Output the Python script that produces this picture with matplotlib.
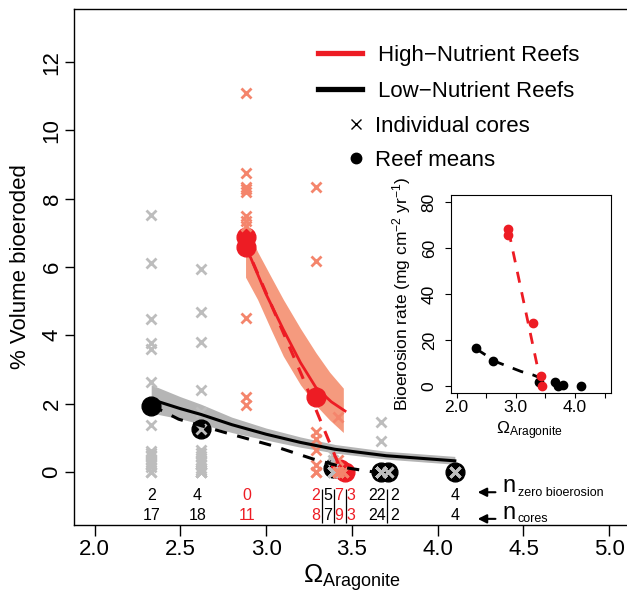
import matplotlib
matplotlib.use("Agg")
import matplotlib.pyplot as plt
from matplotlib.lines import Line2D

plt.rcParams['font.family'] = ['Liberation Sans', 'DejaVu Sans']
plt.rcParams['mathtext.fontset'] = 'custom'
plt.rcParams['mathtext.rm'] = 'Liberation Sans'
plt.rcParams['mathtext.it'] = 'Liberation Sans:italic'
plt.rcParams['mathtext.bf'] = 'Liberation Sans:bold'

RED = '#ED1C24'
SALMON = '#F4856C'
BAND_RED = '#F59A7E'
GREY = '#BDBDBD'
BAND_GREY = '#B5B5B5'

# ---- individual cores (% volume bioeroded) ----
low_core_x = [2.33, 2.62, 3.39, 3.67, 3.71, 4.10]
low_cores = [
    [7.53, 6.11, 4.47, 3.78, 3.59, 2.63, 1.38, 0.6, 0.55, 0.5, 0.45, 0.35, 0.3, 0.2, 0.15, 0, 0],
    [5.94, 4.69, 3.81, 2.39, 1.76, 1.24, 0.65, 0.55, 0.45, 0.35, 0.3, 0.2, 0.1, 0.05, 0, 0, 0, 0],
    [0.5, 0.35, 0, 0, 0, 0, 0],
    [1.47, 0.89] + [0] * 22,
    [0, 0],
    [0, 0, 0, 0],
]
high_core_x = [2.88, 3.29, 3.42, 3.45]
high_cores = [
    [11.1, 8.75, 8.35, 8.3, 8.2, 7.5, 7.35, 7.2, 4.5, 2.2, 1.95],
    [8.34, 6.19, 1.16, 0.96, 0.63, 0.2, 0, 0],
    [1.6, 0.35, 0, 0, 0, 0, 0, 0, 0],
    [0, 0, 0],
]

# ---- reef means ----
low_mean_x = [2.33, 2.62, 3.39, 3.67, 3.71, 4.10]
low_mean_y = [1.92, 1.24, 0.12, 0.0, 0.0, 0.0]
high_mean_x = [2.88, 2.88, 3.29, 3.43, 3.46]
high_mean_y = [6.88, 6.59, 2.18, 0.08, -0.02]

# ---- fitted curves and bands ----
high_fit_x = [2.88, 2.91, 3.00, 3.10, 3.20, 3.29, 3.38, 3.46]
high_fit_y = [6.55, 6.27, 5.20, 4.17, 3.20, 2.47, 2.05, 1.78]
high_band_x = [2.88, 2.95, 3.03, 3.10, 3.20, 3.29, 3.37, 3.45]
high_band_lo = [5.70, 5.05, 4.15, 3.39, 2.55, 1.95, 1.52, 1.15]
high_band_hi = [7.20, 6.45, 5.70, 5.05, 4.20, 3.49, 2.92, 2.45]
high_dash_x = [2.87, 3.21, 3.44]
high_dash_y = [6.75, 2.80, 0.00]

low_fit_x = [2.33, 2.50, 2.62, 2.80, 3.00, 3.20, 3.40, 3.70, 4.10]
low_fit_y = [2.12, 1.85, 1.68, 1.38, 1.10, 0.86, 0.66, 0.47, 0.32]
low_band_x = [2.33, 2.50, 2.62, 2.80, 3.00, 3.20, 3.40, 3.70, 4.10]
low_band_lo = [1.72, 1.55, 1.40, 1.15, 0.93, 0.72, 0.55, 0.37, 0.22]
low_band_hi = [2.55, 2.20, 1.98, 1.60, 1.28, 1.02, 0.80, 0.60, 0.45]
low_dash_x = [2.33, 2.49, 2.76, 3.04, 3.27, 3.46, 3.62]
low_dash_y = [1.95, 1.54, 1.15, 0.76, 0.38, 0.12, 0.0]

# ---- sample counts ----
count_x = [2.33, 2.60, 2.89, 3.289, 3.359, 3.424, 3.494, 3.645, 3.750, 4.10]
n_zero = [2, 4, 0, 2, 5, 7, 3, 22, 2, 4]
n_cores = [17, 18, 11, 8, 7, 9, 3, 24, 2, 4]
count_high = [False, False, True, True, False, True, True, False, False, False]
sep_x = [3.324, 3.394, 3.464, 3.704]

# ---- inset: bioerosion rate ----
in_high_x = [2.87, 2.87, 3.29, 3.42, 3.45]
in_high_y = [68.6, 65.7, 27.5, 4.4, 0.0]
in_low_x = [2.33, 2.62, 3.40, 3.67, 3.72, 3.80, 4.10]
in_low_y = [16.5, 10.9, 1.6, 1.6, 0.0, 0.5, 0.0]
in_high_dash_x = [2.88, 3.43]
in_high_dash_y = [67.5, 0.5]
in_low_dash_x = [2.33, 2.66, 3.09, 3.29, 3.72]
in_low_dash_y = [16.2, 10.6, 6.3, 4.8, 0.4]

W, H = 627, 595
fig = plt.figure(figsize=(W / 100, H / 100), dpi=100)
ax = fig.add_axes([74 / W, 70 / H, 555.8 / W, 516 / H])
ax.set_xlim(1.88, 5.12)
ax.set_ylim(-1.56, 13.56)

ax.fill_between(high_band_x, high_band_lo, high_band_hi, color=BAND_RED, lw=0, zorder=1)
ax.fill_between(low_band_x, low_band_lo, low_band_hi, color=BAND_GREY, lw=0, zorder=1)

ax.plot(low_mean_x, low_mean_y, 'o', color='black', ms=13.5, zorder=2)
ax.plot(high_mean_x, high_mean_y, 'o', color=RED, ms=13.5, zorder=2)

for x, vals in zip(low_core_x, low_cores):
    ax.plot([x] * len(vals), vals, 'x', color=GREY, ms=7.5, mew=2.0, zorder=3)
for x, vals in zip(high_core_x, high_cores):
    ax.plot([x] * len(vals), vals, 'x', color=SALMON, ms=7.5, mew=2.0, zorder=3)

ax.plot(low_fit_x, low_fit_y, color='black', lw=2.2, zorder=4)
ax.plot(low_dash_x, low_dash_y, color='black', lw=2.2, ls=(0, (4, 3.5)), zorder=4)
ax.plot(high_fit_x, high_fit_y, color=RED, lw=2.0, zorder=4)
ax.plot(high_dash_x, high_dash_y, color=RED, lw=2.2, ls=(0, (4, 3.5)), zorder=4)

for x, z, n, hi in zip(count_x, n_zero, n_cores, count_high):
    c = RED if hi else 'black'
    ax.text(x, -0.70, str(z), color=c, fontsize=11.5, ha='center', va='center')
    ax.text(x, -1.29, str(n), color=c, fontsize=11.5, ha='center', va='center')
ax.vlines(sep_x, -1.50, -0.51, color='black', lw=0.9)

ax.annotate('', xy=(4.217, -0.60), xytext=(4.353, -0.60),
            arrowprops=dict(arrowstyle='-|>', lw=1.5, color='black', mutation_scale=13))
ax.annotate('', xy=(4.217, -1.38), xytext=(4.353, -1.38),
            arrowprops=dict(arrowstyle='-|>', lw=1.5, color='black', mutation_scale=13))
ax.text(4.375, -0.594, 'n', fontsize=17, va='baseline', ha='left')
ax.text(4.468, -0.70, 'zero bioerosion', fontsize=9, va='baseline', ha='left')
ax.text(4.375, -1.38, 'n', fontsize=17, va='baseline', ha='left')
ax.text(4.468, -1.48, 'cores', fontsize=9, va='baseline', ha='left')

ax.set_xticks([2.0, 2.5, 3.0, 3.5, 4.0, 4.5, 5.0])
ax.set_xticklabels(['2.0', '2.5', '3.0', '3.5', '4.0', '4.5', '5.0'])
ax.set_yticks([0, 2, 4, 6, 8, 10, 12])
ax.tick_params(axis='x', length=8, width=1, pad=2, labelsize=16)
ax.tick_params(axis='y', length=6.5, width=1, pad=9.3, labelsize=16, labelrotation=90)
for lab in ax.get_yticklabels():
    lab.set_va('center')
    lab.set_ha('center')
for sp in ax.spines.values():
    sp.set_linewidth(1)

ax.set_ylabel('% Volume bioeroded', fontsize=16)
ax.yaxis.set_label_coords(-0.097, 0.5)
ax.yaxis.label.set_va('center')
ax.set_xlabel('Ω$_{\\mathrm{Aragonite}}$', fontsize=18.5)
ax.xaxis.set_label_coords(0.5, -0.103)
ax.xaxis.label.set_va('center')

# legend
h1 = [Line2D([], [], color=RED, lw=3.8), Line2D([], [], color='black', lw=3.8)]
leg1 = fig.legend(h1, ['High\u2212Nutrient Reefs', 'Low\u2212Nutrient Reefs'],
                  loc='upper left', bbox_to_anchor=(318 / W, 1 - 45 / H),
                  frameon=False, fontsize=16, handlelength=2.0, handletextpad=0.7,
                  labelspacing=0.68, borderpad=0, borderaxespad=0)
h2 = [Line2D([], [], color='black', marker='x', ls='', ms=7, mew=1.0),
      Line2D([], [], color='black', marker='o', ls='', ms=7.5)]
leg2 = fig.legend(h2, ['Individual cores', 'Reef means'],
                  loc='upper left', bbox_to_anchor=(347 / W, 1 - 116 / H),
                  frameon=False, fontsize=16, handlelength=0.77, handletextpad=0.5,
                  labelspacing=0.58, borderpad=0, borderaxespad=0)

# inset
ax2 = fig.add_axes([450.7 / W, (H - 393.3) / H, 159.8 / W, 198.3 / H])
ax2.set_xlim(1.9, 4.6)
ax2.set_ylim(-3.2, 83.2)
ax2.plot(in_low_dash_x, in_low_dash_y, color='black', lw=2.0, ls=(0, (4, 3.5)))
ax2.plot(in_high_dash_x, in_high_dash_y, color=RED, lw=2.0, ls=(0, (4, 3.5)))
ax2.plot(in_low_x, in_low_y, 'o', color='black', ms=6)
ax2.plot(in_high_x, in_high_y, 'o', color=RED, ms=6)
ax2.set_xticks([2.0, 2.5, 3.0, 3.5, 4.0, 4.5])
ax2.set_xticklabels(['2.0', '', '3.0', '', '4.0', ''])
ax2.set_yticks([0, 20, 40, 60, 80])
ax2.tick_params(axis='x', length=3.5, width=0.8, pad=1.5, labelsize=12.5)
ax2.tick_params(axis='y', length=4, width=0.8, pad=11.5, labelsize=12.5, labelrotation=90)
for lab in ax2.get_yticklabels():
    lab.set_va('center')
    lab.set_ha('center')
for sp in ax2.spines.values():
    sp.set_linewidth(0.8)
ax2.set_ylabel('Bioerosion rate (mg cm$^{-2}$ yr$^{-1}$)', fontsize=12.5)
ax2.yaxis.set_label_coords(-0.31, 0.5)
ax2.yaxis.label.set_va('center')
ax2.set_xlabel('Ω$_{\\mathrm{Aragonite}}$', fontsize=12.5)
ax2.xaxis.set_label_coords(0.49, -0.19)
ax2.xaxis.label.set_va('center')

fig.savefig('out.png', dpi=100)
